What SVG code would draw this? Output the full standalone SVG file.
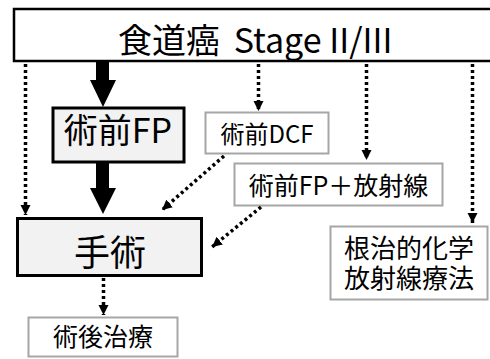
<svg xmlns="http://www.w3.org/2000/svg" width="490" height="359" viewBox="0 0 490 359">
<style>
text{font-family:"Noto Sans CJK JP","Noto Sans",sans-serif;fill:#000;text-anchor:middle}
.main{fill:#fff;stroke:#000;stroke-width:2.5}
.bold{fill:#f2f2f2;stroke:#000;stroke-width:3}
.gray{fill:#fff;stroke:#a6a6a6;stroke-width:2}
.dot{fill:none;stroke:#000;stroke-width:3.5;stroke-dasharray:3 3;marker-end:url(#ah)}
</style>
<defs>
<marker id="ah" markerUnits="userSpaceOnUse" markerWidth="12" markerHeight="12" viewBox="0 0 12 12" refX="10" refY="6" orient="auto">
<path d="M0,1 L10,6 L0,11 Z" fill="#000"/>
</marker>
</defs>
<g id="node-top">
<rect class="main" x="14" y="9" width="490" height="52"/>
<text x="118" y="53" font-size="34" style="text-anchor:start">食道癌 <tspan dx="6">Stage II/III</tspan></text>
</g>
<g id="node-fp">
<rect class="bold" x="53" y="108" width="131" height="54"/>
<text x="118" y="143" font-size="34">術前FP</text>
</g>
<g id="node-surgery">
<rect class="bold" x="17.5" y="218.5" width="184" height="57"/>
<text x="110" y="266" font-size="36">手術</text>
</g>
<g id="node-post">
<rect class="gray" x="28.5" y="317.5" width="149" height="39"/>
<text x="103" y="346" font-size="25">術後治療</text>
</g>
<g id="node-dcf">
<rect class="gray" x="205.5" y="112.5" width="123" height="41"/>
<text x="267" y="143" font-size="24">術前DCF</text>
</g>
<g id="node-fprt">
<rect class="gray" x="234.5" y="163.5" width="208" height="42"/>
<text x="338.5" y="195" font-size="25">術前FP＋放射線</text>
</g>
<g id="node-crt">
<rect class="gray" x="330.5" y="226.5" width="157" height="73"/>
<text font-size="26"><tspan x="409" y="258">根治的化学</tspan><tspan x="409" y="288">放射線療法</tspan></text>
</g>
<g id="connectors">
<polygon points="96,61 109,61 109,80 116,80 103,107 90,80 96,80" fill="#000"/>
<polygon points="96,163 109,163 109,188 116,188 103,214 90,188 96,188" fill="#000"/>
<line class="dot" x1="25.5" y1="64" x2="25.5" y2="215"/>
<line class="dot" x1="258.5" y1="64" x2="258.5" y2="111"/>
<line class="dot" x1="366.5" y1="64" x2="366.5" y2="160"/>
<line class="dot" x1="472.5" y1="64" x2="472.5" y2="223"/>
<line class="dot" x1="103.5" y1="278" x2="103.5" y2="315"/>
<line class="dot" x1="224" y1="156" x2="162" y2="210"/>
<line class="dot" x1="261" y1="207" x2="212" y2="247"/>
</g>
</svg>
